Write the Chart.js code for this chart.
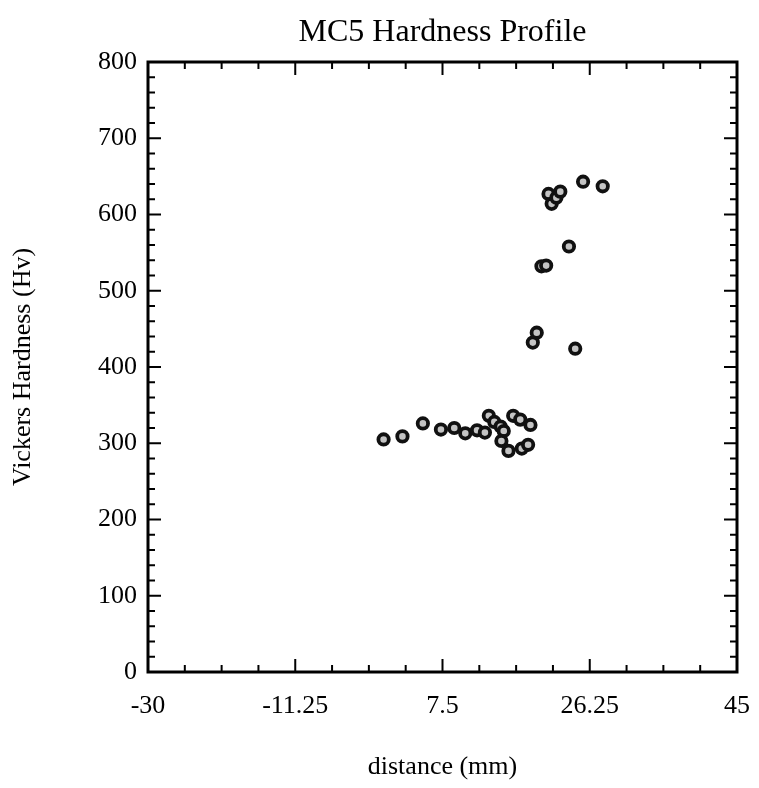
<!DOCTYPE html>
<html><head><meta charset="utf-8">
<script src="https://cdn.jsdelivr.net/npm/chart.js@4/dist/chart.umd.min.js"></script>
<style>html,body{margin:0;padding:0;background:#fff}#wrap{width:759px;height:788px}</style>
</head><body><div id="wrap"><canvas id="c" width="759" height="788"></canvas></div>
<script>
const chartTitle = 'MC5 Hardness Profile';
const xAxisTitle = 'distance (mm)';
const yAxisTitle = 'Vickers Hardness (Hv)';
const xTickValues = [-30, -11.25, 7.5, 26.25, 45];
const yTickValues = [0, 100, 200, 300, 400, 500, 600, 700, 800];
const xMinorStep = 4.6875;
const yMinorStep = 20;
const distance = [0.0, 2.4, 5.0, 7.3, 9.0, 10.4, 11.9, 12.9, 13.4, 14.1, 14.9, 15.3, 15.0, 15.9, 16.5, 17.4, 17.6, 18.4, 18.7, 19.0, 19.5, 20.1, 20.7, 21.0, 21.4, 22.0, 22.5, 23.6, 24.4, 25.4, 27.9];
const hardness = [305, 309, 326, 318, 320, 313, 317, 314, 336, 328, 322, 316, 303, 290, 336, 331, 293, 298, 324, 432, 445, 532, 533, 627, 614, 622, 630, 558, 424, 643, 637];

const serif = '"Liberation Serif", "DejaVu Serif", serif';

const frame = {
  id: 'frame',
  afterDraw(chart) {
    const {ctx, chartArea: a, scales: {x, y}} = chart;
    ctx.save();
    ctx.strokeStyle = '#000';
    ctx.lineWidth = 2;
    const major = 13, minor = 7;
    ctx.beginPath();
    for (let v = x.min; v <= x.max + 1e-9; v += xMinorStep) {
      const px = x.getPixelForValue(v);
      const isMajor = xTickValues.some(t => Math.abs(t - v) < 1e-6);
      const len = isMajor ? major : minor;
      ctx.moveTo(px, a.bottom); ctx.lineTo(px, a.bottom - len);
      ctx.moveTo(px, a.top); ctx.lineTo(px, a.top + len);
    }
    for (let v = y.min; v <= y.max + 1e-9; v += yMinorStep) {
      const py = y.getPixelForValue(v);
      const isMajor = yTickValues.some(t => Math.abs(t - v) < 1e-6);
      const len = isMajor ? major : minor;
      ctx.moveTo(a.left, py); ctx.lineTo(a.left + len, py);
      ctx.moveTo(a.right, py); ctx.lineTo(a.right - len, py);
    }
    ctx.stroke();
    ctx.lineWidth = 3;
    ctx.strokeRect(a.left, a.top, a.right - a.left, a.bottom - a.top);
    ctx.fillStyle = '#000';
    ctx.font = '32px ' + serif;
    ctx.textAlign = 'center';
    ctx.textBaseline = 'middle';
    ctx.fillText(chartTitle, (a.left + a.right) / 2, 33);
    ctx.restore();
  }
};

new Chart(document.getElementById('c'), {
  type: 'scatter',
  data: {
    datasets: [{
      data: distance.map((d, i) => ({x: d, y: hardness[i]})),
      pointStyle: 'circle',
      pointRadius: 5.2,
      pointHoverRadius: 5.2,
      borderWidth: 3.8,
      borderColor: '#111',
      backgroundColor: '#c4c4c4'
    }]
  },
  options: {
    responsive: false,
    devicePixelRatio: 1,
    animation: false,
    layout: {padding: {top: 62, right: 22, left: 0, bottom: 0}},
    plugins: {legend: {display: false}, tooltip: {enabled: false}, title: {display: false}},
    scales: {
      x: {
        type: 'linear', min: -30, max: 45,
        afterBuildTicks: s => { s.ticks = xTickValues.map(v => ({value: v})); },
        afterFit: s => { s.height = 116; s.paddingLeft = 0; s.paddingRight = 0; },
        grid: {display: false, drawTicks: false},
        border: {display: false},
        ticks: {padding: 19, color: '#000', font: {family: serif, size: 26}, maxRotation: 0, callback: v => String(v)},
        title: {display: true, text: xAxisTitle, color: '#000', font: {family: serif, size: 26}, padding: {top: 0, bottom: 5}}
      },
      y: {
        type: 'linear', min: 0, max: 800,
        afterBuildTicks: s => { s.ticks = yTickValues.map(v => ({value: v})); },
        afterFit: s => { s.width = 148; s.paddingTop = 0; s.paddingBottom = 0; },
        grid: {display: false, drawTicks: false},
        border: {display: false},
        ticks: {padding: 11, color: '#000', font: {family: serif, size: 26}, callback: v => String(v)},
        title: {display: true, text: yAxisTitle, color: '#000', font: {family: serif, size: 26}, padding: {top: 8, bottom: 0}}
      }
    }
  },
  plugins: [frame]
});
</script></body></html>
